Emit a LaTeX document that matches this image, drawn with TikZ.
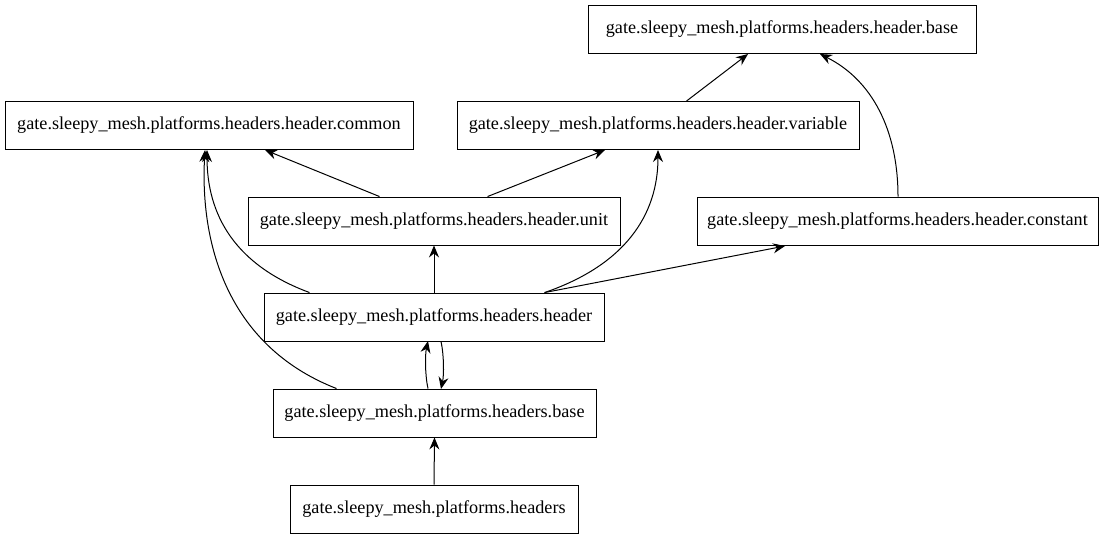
\documentclass[tikz,border=0pt]{standalone}
\usepackage{fontspec}
\setmainfont{Liberation Serif}
\usetikzlibrary{arrows.meta}
\begin{document}
\begin{tikzpicture}[x=1pt,y=-1pt,
  box/.style={draw,line width=0.9pt,minimum height=48pt,inner xsep=0pt,font=\fontsize{18.2}{20}\selectfont},
  edge/.style={line width=1pt,-{Stealth[length=12pt,width=10pt,inset=4pt]}}]
\useasboundingbox (0,0) rectangle (1105,539);
\node[box,minimum width=388pt] (hb) at (782,29) {gate.sleepy\_mesh.platforms.headers.header.base};
\node[box,minimum width=408pt] (hc) at (209,125) {gate.sleepy\_mesh.platforms.headers.header.common};
\node[box,minimum width=402pt] (hv) at (658,125) {gate.sleepy\_mesh.platforms.headers.header.variable};
\node[box,minimum width=372pt] (hu) at (434,221) {gate.sleepy\_mesh.platforms.headers.header.unit};
\node[box,minimum width=401pt] (hk) at (897.5,221) {gate.sleepy\_mesh.platforms.headers.header.constant};
\node[box,minimum width=340pt] (h) at (434,317) {gate.sleepy\_mesh.platforms.headers.header};
\node[box,minimum width=323pt] (b) at (434.5,413) {gate.sleepy\_mesh.platforms.headers.base};
\node[box,minimum width=288pt] (p) at (434,509) {gate.sleepy\_mesh.platforms.headers};
\draw[edge] (hv.south west |- 0,101) ++(230,0) coordinate (v1) -- (748,54);
\draw[edge] (hk.north) ++(0.5,0) .. controls (898,130) and (872,80) .. (820,54);
\draw[edge] (hu.north west) ++(132,0) -- (265,150);
\draw[edge] (hu.north west) ++(240,0) -- (605,150);
\draw[edge] (h.north) -- (hu.south);
\draw[edge] (h.north west) ++(46,0) .. controls (235,265) and (207,215) .. (207,150);
\draw[edge] (h.north west) ++(281,0) .. controls (625,265) and (658,215) .. (658,150);
\draw[edge] (h.north west) ++(281,0) -- (785,246);
\draw[edge] (h.south) ++(7,0) .. controls (444,355) and (444,375) .. (441,389);
\draw[edge] (b.north) ++(-6.5,0) .. controls (425,375) and (425,355) .. (428,341);
\draw[edge] (b.north west) ++(64,0) .. controls (225,345) and (200,240) .. (205,150);
\draw[edge] (p.north) -- (b.south);
\end{tikzpicture}
\end{document}
